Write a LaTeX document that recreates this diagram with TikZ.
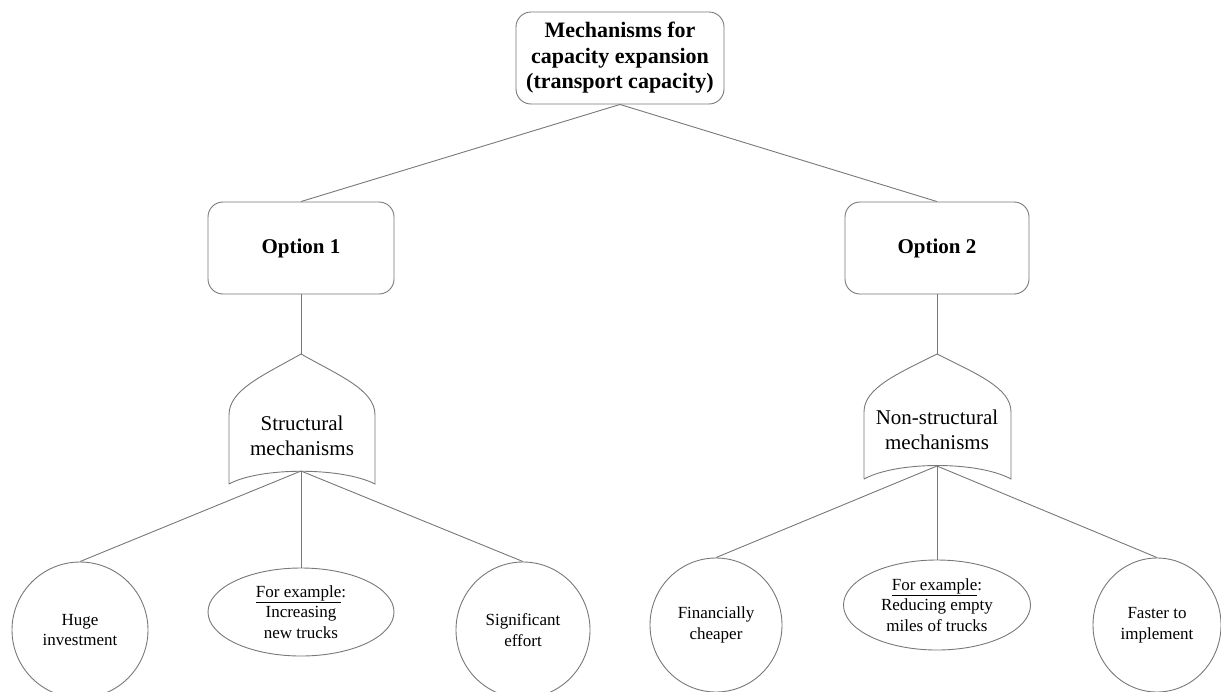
\documentclass[tikz,border=0pt]{standalone}
\usepackage{fontspec}
\setmainfont{Liberation Serif}
\usetikzlibrary{shapes.geometric}
\definecolor{linegray}{RGB}{120,120,120}
\tikzset{
  conn/.style={draw=linegray, line width=0.9pt},
  rbox/.style={draw=linegray, line width=0.9pt, rectangle, rounded corners=15pt, inner sep=0pt, align=center, font=\fontsize{22}{25.5}\selectfont\bfseries},
  optbox/.style={rbox, font=\fontsize{21}{25}\selectfont\bfseries},
  oval/.style={draw=linegray, line width=0.9pt, ellipse, inner sep=0pt, align=center, font=\fontsize{17}{20.5}\selectfont},
  shapetext/.style={align=center, inner sep=0pt, font=\fontsize{21}{24.5}\selectfont},
  mechshape/.style={draw=linegray, line width=0.9pt}
}
\begin{document}
\begin{tikzpicture}[x=1pt,y=-1pt]
\useasboundingbox (0,0) rectangle (1221,691);
% top box
\node[rbox, minimum width=208pt, minimum height=92pt] (top) at (620,58) {Mechanisms for\\capacity expansion\\(transport capacity)};
\node[optbox, minimum width=186pt, minimum height=92pt] (opt1) at (301,248) {Option 1};
\node[optbox, minimum width=184pt, minimum height=92pt] (opt2) at (937,248) {Option 2};
% structural shape
\coordinate (sTop) at (301,354);
\coordinate (sBot) at (301,471);
\draw[mechshape] (229,484) -- (229,415) .. controls (229,390) and (262,376) .. (sTop)
  .. controls (340,376) and (375,390) .. (375,415) -- (375,484)
  .. controls (342,467) and (260,467) .. (229,484);
\node[shapetext] (struct) at (302,436) {Structural\\mechanisms};
% non-structural shape
\coordinate (nTop) at (937,354);
\coordinate (nBot) at (937,466);
\draw[mechshape] (864,479) -- (864,412) .. controls (864,388) and (897,374) .. (nTop)
  .. controls (977,374) and (1011,388) .. (1011,412) -- (1011,479)
  .. controls (978,461) and (897,461) .. (864,479);
\node[shapetext] (nonstruct) at (937,430) {Non-structural\\mechanisms};
% leaves
\node[oval, minimum width=136pt, minimum height=136pt] (huge) at (80,630) {Huge\\investment};
\node[oval, minimum width=186pt, minimum height=88pt] (ex1) at (301,612) {\underline{For example}:\\Increasing\\new trucks};
\node[oval, minimum width=134pt, minimum height=136pt] (sig) at (523,630) {Significant\\effort};
\node[oval, minimum width=132pt, minimum height=134pt] (fin) at (716,625) {Financially\\cheaper};
\node[oval, minimum width=187pt, minimum height=90pt] (ex2) at (937,605) {\underline{For example}:\\Reducing empty\\miles of trucks};
\node[oval, minimum width=128pt, minimum height=134pt] (fast) at (1157,625) {Faster to\\implement};
% connectors
\draw[conn] (top.south) -- (opt1.north);
\draw[conn] (top.south) -- (opt2.north);
\draw[conn] (opt1.south) -- (sTop);
\draw[conn] (opt2.south) -- (nTop);
\draw[conn] (sBot) -- (huge.north);
\draw[conn] (sBot) -- (ex1.north);
\draw[conn] (sBot) -- (sig.north);
\draw[conn] (nBot) -- (fin.north);
\draw[conn] (nBot) -- (ex2.north);
\draw[conn] (nBot) -- (fast.north);
\end{tikzpicture}
\end{document}
